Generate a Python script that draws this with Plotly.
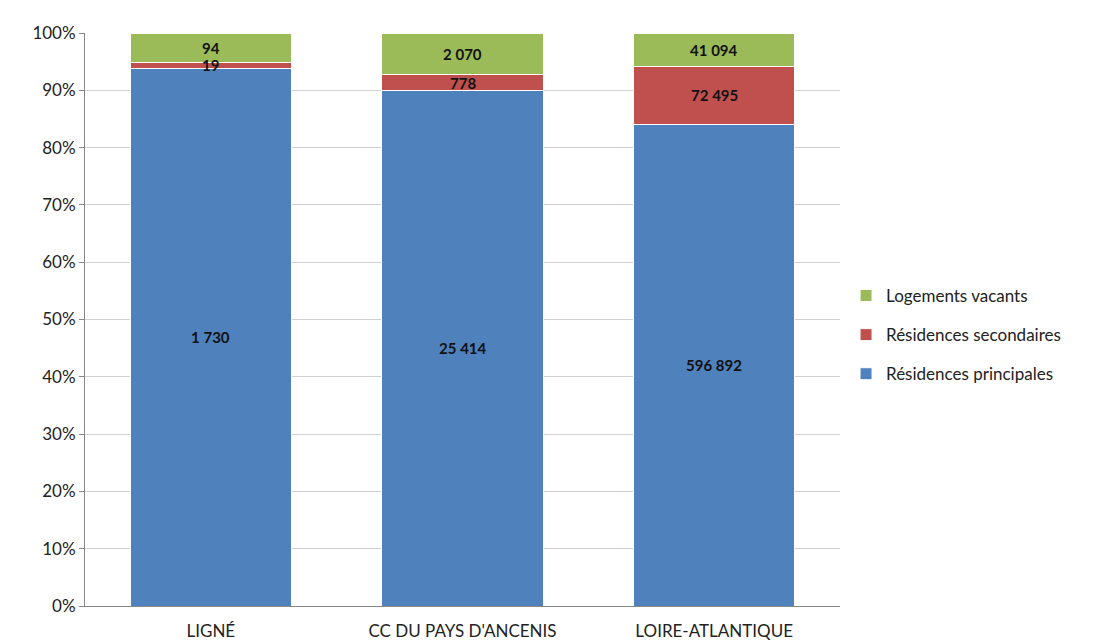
import plotly.graph_objects as go

categories = ["LIGNÉ", "CC DU PAYS D'ANCENIS", "LOIRE-ATLANTIQUE"]
principales = [1730, 25414, 596892]
secondaires = [19, 778, 72495]
vacants = [94, 2070, 41094]
series_names = ["Résidences principales", "Résidences secondaires", "Logements vacants"]
colors = ["#4F81BD", "#C0504D", "#9BBB59"]
legend_ranks = [3, 2, 1]
y_ticks = [0, 10, 20, 30, 40, 50, 60, 70, 80, 90, 100]
y_tick_text = [f"{t}%" for t in y_ticks]

def fmt(v):
    return f"{v:,}".replace(",", "\u202f")

fig = go.Figure()
series = [principales, secondaires, vacants]
for name, vals, col, rk in zip(series_names, series, colors, legend_ranks):
    fig.add_trace(go.Bar(
        x=categories, y=vals, name=name, legendgroup=name, legendrank=rk,
        marker=dict(color=col, line=dict(color="white", width=1)),
        width=0.64,
    ))

annotations = []
for i, cat in enumerate(categories):
    total = sum(s[i] for s in series)
    cum = 0
    for s in series:
        v = s[i]
        mid = (cum + v / 2) / total * 100
        cum += v
        annotations.append(dict(
            x=cat, y=mid, text=f"<b>{fmt(v)}</b>", showarrow=False,
            font=dict(size=15, color="#111111", family="Lato, Open Sans, sans-serif"),
            xref="x", yref="y", yanchor="middle",
        ))

fig.update_layout(
    barmode="stack", barnorm="percent",
    width=1102, height=644,
    margin=dict(l=77, r=270, t=25, b=46),
    paper_bgcolor="white", plot_bgcolor="white",
    font=dict(family="Lato, Open Sans, sans-serif", size=17, color="#222222"),
    legend=dict(
        x=1.008, y=0.473, xanchor="left", yanchor="middle",
        traceorder="grouped", font=dict(size=17, color="#222222"),
        tracegroupgap=14,
    ),
    annotations=annotations,
    showlegend=True,
)
fig.update_yaxes(
    range=[0, 100], tickvals=y_ticks, ticktext=y_tick_text,
    showgrid=True, gridcolor="#D0D0D0", gridwidth=1,
    showline=True, linecolor="#888888", linewidth=1,
    ticks="outside", ticklen=5, tickcolor="#888888",
    tickfont=dict(size=17), zeroline=False,
)
fig.update_xaxes(
    showline=True, linecolor="#888888", linewidth=1,
    tickfont=dict(size=17), ticks="", ticklabelstandoff=10,
)
fig.write_html("out.html")
